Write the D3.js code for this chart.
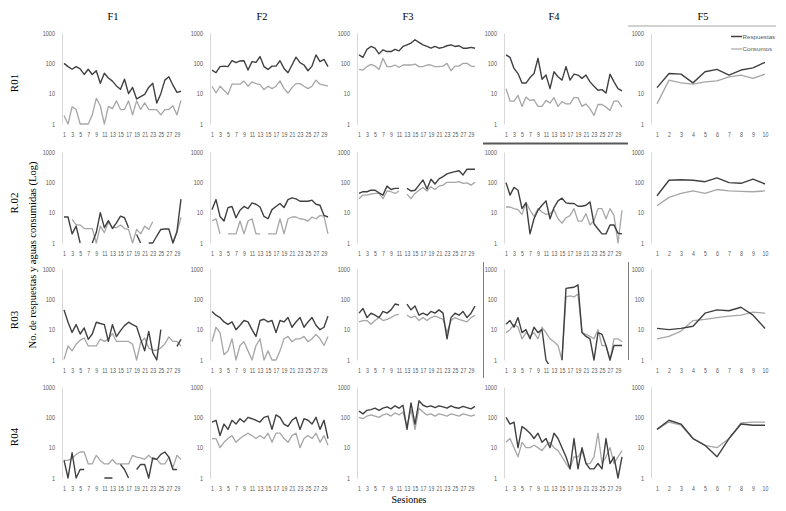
<!DOCTYPE html>
<html><head><meta charset="utf-8">
<script src="https://cdn.jsdelivr.net/npm/d3@7"></script>
<style>body{margin:0;background:#fff}svg{display:block}</style>
</head><body>
<svg id="c" width="786" height="511"></svg>
<script>
// ---------- DATA ----------
const rowLabels = ["R01", "R.02", "R03", "R04"];
const colLabels = ["F1", "F2", "F3", "F4", "F5"];
const sessions30 = d3.range(1, 31);
const sessions10 = d3.range(1, 11);
const ticks30 = [1,3,5,7,9,11,13,15,17,19,21,23,25,27,29];
const ticks10 = [1,2,3,4,5,6,7,8,9,10];
const yTicks = [1, 10, 100, 1000];
const seriesNames = ["Respuestas", "Consumos"];
const yTitle = "No. de respuestas y aguas consumidas (Log)";
const xTitle = "Sesiones";

const resp_R01_F1 = [100,78,64,78,66,43,64,43,57,22,47,33,26,18,14,30,10,16,6.7,8,9.5,16,22,4.9,10,28,36,19,11,12];
const cons_R01_F1 = [1.9,1,3.7,3,1,1,1,2,7,4,1,3.8,3.2,5.8,3,3,5.8,2,5.8,3,5,3,3,3,2,3,3,4,2,6];
const resp_R01_F2 = [60,49,78,81,78,122,105,120,122,60,114,108,167,78,63,81,81,122,68,49,88,160,105,88,57,81,190,114,135,78];
const cons_R01_F2 = [17.6,10.5,17.6,13,9.5,20.5,20.5,20.5,26,17.6,24.5,21.5,20,13.6,17.6,14.7,17.6,26.5,14.7,10.5,15.8,21.5,21.5,17.6,14.7,17.6,28,20.5,19,17.6];
const resp_R01_F3 = [190,158,290,360,315,205,278,245,245,290,258,360,408,465,600,490,408,360,315,360,315,335,380,408,360,380,315,315,335,315];
const cons_R01_F3 = [63,60,78,92,81,63,147,78,78,88,74,88,88,88,95,78,78,88,88,78,78,81,100,57,81,81,100,100,81,78];
const resp_R01_F4 = [190,158,68,46,22.4,22.4,34,46,147,30,41,14.7,53,36,28,78,28,44,41,32,41,24.5,17.6,13,13.6,10.5,44,24.5,14.7,12.3];
const cons_R01_F4 = [14.7,5.7,5.7,8.8,3.8,7.7,6,6.3,3.8,3.8,6,4.9,7.4,3.8,5.5,4.6,4.6,7.4,7.4,3.8,4.6,3.2,1.9,4.4,4.4,3.6,2.8,5.7,5.7,3.6];
const resp_R01_F5 = [15.8,46,44,22.7,53,63,41,60,71,108];
const cons_R01_F5 = [4.6,28,22.7,20.5,24.5,26.5,36,41,32,44];

const resp_R02_F1 = [7.2,7.2,2,3.6,1,null,null,1,2.2,10,3.2,5.5,3,4.6,7.7,6.8,3.2,null,1.9,1,null,1,1,1.7,2.8,2.9,2.9,1,2.4,28];
const cons_R02_F1 = [null,null,6,4,3.9,3,3,3,1,3.6,2.2,5,3.2,3.2,3.9,3,2.8,1,2.8,2,3.6,2.8,5,null,null,null,null,1,2.2,7];
const resp_R02_F2 = [12.6,27,7.5,5.3,14.7,16,6.8,12,16,13.6,21,19,15.4,7.5,6.3,12.6,16,20,14.7,27,30.7,28.5,23.8,23.8,23.8,25.8,19,17.6,8.1,7.2];
const cons_R02_F2 = [5.3,6.3,2,null,2,2,2,5.3,2,5.3,6.3,2,2,null,2,2,2,6.3,2,6.3,7.2,7.2,6.3,6,5.3,7.2,6.3,8.1,7.5,2];
const resp_R02_F3 = [43,49,49,55,55,45,38,75,58,63,63,null,63,52,55,81,120,60,127,88,130,155,190,210,226,240,175,270,270,270];
const cons_R02_F3 = [29,38,38,41,43,43,29,52,49,43,52,null,41,29,43,55,68,52,72,58,75,81,100,100,100,105,93,96,81,100];
const resp_R02_F4 = [98,38,68,55,13.6,21,2,6.3,12,17.6,24.5,6.3,14.7,24.5,30,21,20,20,16.3,16.3,17.6,22.7,4.3,2.9,2,2,3.9,3.9,2.1,2];
const cons_R02_F4 = [15.4,15.4,13.6,12.6,8.8,22,12,7.5,13.6,10.5,8.8,9.3,12.6,6.3,4.5,6.8,8,13.6,5.3,5.3,9.3,3.9,5.5,13.6,13.6,6.3,13.6,8,1,12];
const resp_R02_F5 = [36,117,122,117,105,140,98,93,127,88];
const cons_R02_F5 = [17,32,43,52,43,58,52,50,49,52];

const resp_R03_F1 = [45,17.6,8.1,14.7,7.2,11.4,4.8,7.2,17.6,16,14.7,4.1,14.7,5.9,9.3,13.6,17.6,14.7,12.6,4.8,2,8.8,1.75,1,10,null,null,null,2.8,4.8];
const cons_R03_F1 = [1.05,2.9,2,3.3,4.5,5.3,2.9,2.9,2.9,4.9,4.1,4.9,7.5,4.1,4.1,4.1,4.1,3.3,1,3.8,5.3,2.5,2.1,2.1,2.5,3.4,5.8,4.1,4.1,2.9];
const resp_R03_F2 = [40,30,25,18,15,18,10,14,20,18,10,6,20,22,18,20,8,20,18,25,12,18,25,12,18,25,14,10,12,28];
const cons_R03_F2 = [4,12,8,1.5,2,5,1,3,4,2,1,3,5,1,2,1,1,2,5,6,4,5,5,6,4,5,7,5,3,6];
const resp_R03_F3 = [35,50,25,35,30,25,40,35,45,70,65,null,70,45,60,30,35,30,40,35,45,35,5,25,35,30,40,25,35,60];
const cons_R03_F3 = [18,20,20,15,20,25,20,22,25,30,32,null,30,25,28,20,25,20,25,28,25,22,8,20,25,22,20,18,25,30];
const resp_R03_F4 = [15,20,12,25,8,10,5,12,8,10,1,0.6,null,null,1,230,240,250,300,8,6,5,1,8,7,3,1,3,3,3];
const cons_R03_F4 = [8,10,15,12,5,8,6,8,5,12,8,5,4,3,1,120,130,120,150,8,7,6,5,10,3,3,1,5,5,4];
const resp_R03_F5 = [11,10,11,13,35,45,42,55,30,11];
const cons_R03_F5 = [5,6,9,20,22,25,28,30,38,35];

const resp_R04_F1 = [3.8,1,6.8,1,1.9,1.9,null,null,null,null,1,1,1,null,2.8,1.9,1,null,1.9,2.8,2.8,1,4.6,4.1,6,7.2,4.9,1.9,1.9,null];
const cons_R04_F1 = [3.8,3.8,4.4,6,7.2,7.2,2.9,2.9,5.6,3.8,2.9,2.9,4.1,2.9,2.9,2.9,2.9,5.6,4.9,4.6,4.1,5.6,4.1,4.1,2.9,2.9,4.9,2.2,5.6,4.1];
const resp_R04_F2 = [70,80,25,60,40,80,60,90,70,100,90,80,70,100,110,40,120,100,60,50,80,100,40,90,80,60,100,40,80,20];
const cons_R04_F2 = [20,20,10,15,20,25,15,20,25,30,25,20,25,20,30,15,30,30,20,15,25,30,10,20,25,20,30,15,25,12];
const resp_R04_F3 = [160,130,170,180,200,170,200,220,190,240,200,250,40,300,60,350,250,220,240,210,240,220,200,240,210,200,230,210,190,230];
const cons_R04_F3 = [100,90,110,120,110,100,120,130,110,140,120,150,50,180,40,200,150,120,130,110,130,120,110,130,120,110,130,120,110,120];
const resp_R04_F4 = [100,60,70,10,50,40,30,20,30,15,20,10,30,20,10,5,2,20,2,10,3,2,2,3,2,20,3,5,1,5];
const cons_R04_F4 = [15,20,10,5,15,10,10,12,10,8,12,15,10,8,5,3,2,5,5,8,3,3,5,30,3,5,10,3,5,8];
const resp_R04_F5 = [40,80,60,20,12,5,20,60,55,55];
const cons_R04_F5 = [40,70,55,20,12,10,20,65,70,70];

const respData = [
  [resp_R01_F1, resp_R01_F2, resp_R01_F3, resp_R01_F4, resp_R01_F5],
  [resp_R02_F1, resp_R02_F2, resp_R02_F3, resp_R02_F4, resp_R02_F5],
  [resp_R03_F1, resp_R03_F2, resp_R03_F3, resp_R03_F4, resp_R03_F5],
  [resp_R04_F1, resp_R04_F2, resp_R04_F3, resp_R04_F4, resp_R04_F5]
];
const consData = [
  [cons_R01_F1, cons_R01_F2, cons_R01_F3, cons_R01_F4, cons_R01_F5],
  [cons_R02_F1, cons_R02_F2, cons_R02_F3, cons_R02_F4, cons_R02_F5],
  [cons_R03_F1, cons_R03_F2, cons_R03_F3, cons_R03_F4, cons_R03_F5],
  [cons_R04_F1, cons_R04_F2, cons_R04_F3, cons_R04_F4, cons_R04_F5]
];

// ---------- LAYOUT ----------
const colLeft = [62, 210, 357, 504, 651];
const colWidth = [121, 120, 120, 120, 120];
const rowTop = [33, 152, 269, 387];
const plotH = 91;
const colHeadX = [113, 262, 408, 554, 703];
const rowLabelY = [83, 203, 320, 437];
const colors = {resp: "#404040", cons: "#a6a6a6"};
const serif = "'Liberation Serif','Times New Roman',serif";
const tickFont = "'Liberation Sans Narrow','Liberation Sans',sans-serif";

const svg = d3.select("#c");

// decorative selection lines (from the original screenshot)
svg.append("line").attr("x1",628).attr("x2",776).attr("y1",26).attr("y2",26).attr("stroke","#a6a6a6").attr("stroke-width",1);
svg.append("line").attr("x1",483).attr("x2",628).attr("y1",143.5).attr("y2",143.5).attr("stroke","#595959").attr("stroke-width",2);
svg.append("line").attr("x1",483.5).attr("x2",483.5).attr("y1",262).attr("y2",378).attr("stroke","#7f7f7f").attr("stroke-width",1);
svg.append("line").attr("x1",628.5).attr("x2",628.5).attr("y1",262).attr("y2",360).attr("stroke","#7f7f7f").attr("stroke-width",1);

colLabels.forEach((c, j) => {
  svg.append("text").attr("x", colHeadX[j]).attr("y", 20).attr("text-anchor","middle")
    .attr("font-family", serif).attr("font-size", 10.5).attr("font-weight", "normal").attr("fill","#000").text(c);
});
rowLabels.forEach((r, i) => {
  svg.append("text").attr("transform", `translate(18,${rowLabelY[i]}) rotate(-90)`)
    .attr("text-anchor","middle").attr("font-family", serif).attr("font-size", 11).attr("fill","#000").text(r);
});
svg.append("text").attr("transform", "translate(36,255) rotate(-90)").attr("text-anchor","middle")
  .attr("font-family", serif).attr("font-size", 10.5).attr("fill","#000").text(yTitle);
svg.append("text").attr("x", 409).attr("y", 503).attr("text-anchor","middle")
  .attr("font-family", serif).attr("font-size", 10).attr("fill","#000").text(xTitle);

rowLabels.forEach((r, i) => {
  colLabels.forEach((c, j) => {
    const isF5 = j === 4;
    const dom = isF5 ? sessions10 : sessions30;
    const x = d3.scalePoint().domain(dom).range([colLeft[j], colLeft[j] + colWidth[j]]).padding(0.5);
    const y = d3.scaleLog().domain([1, 1000]).range([rowTop[i] + plotH, rowTop[i]]);
    const g = svg.append("g");

    // y axis
    const ya = d3.axisLeft(y).tickValues(yTicks).tickSize(0).tickPadding(0).tickFormat(d3.format("d"));
    const yg = g.append("g").attr("transform", `translate(${colLeft[j]},0)`).call(ya);
    yg.select(".domain").attr("stroke", "#d9d9d9");
    yg.selectAll("text").attr("x", 0).attr("transform", "translate(-7,0) scale(0.85,1)")
      .attr("font-family", tickFont).attr("font-size", 6.5).attr("fill", "#595959");

    // x axis labels
    const xa = d3.axisBottom(x).tickValues(isF5 ? ticks10 : ticks30).tickSize(0).tickPadding(8);
    const xg = g.append("g").attr("transform", `translate(0,${rowTop[i] + plotH})`).call(xa);
    xg.select(".domain").remove();
    xg.selectAll("text").attr("transform", "scale(0.8,1)")
      .attr("font-family", tickFont).attr("font-size", 6.5).attr("fill", "#595959");

    const line = d3.line()
      .defined(d => d.v != null)
      .x(d => x(d.s))
      .y(d => y(d.v));
    const clipId = `clip${i}${j}`;
    g.append("clipPath").attr("id", clipId).append("rect")
      .attr("x", colLeft[j]).attr("y", rowTop[i] - 2).attr("width", colWidth[j] + 4).attr("height", plotH + 6);

    const consPts = dom.map((s, k) => ({s, v: consData[i][j][k]}));
    const respPts = dom.map((s, k) => ({s, v: respData[i][j][k]}));
    g.append("path").datum(consPts).attr("d", line).attr("fill","none")
      .attr("stroke", colors.cons).attr("stroke-width", 1.3).attr("stroke-linejoin","round").attr("clip-path", `url(#${clipId})`);
    g.append("path").datum(respPts).attr("d", line).attr("fill","none")
      .attr("stroke", colors.resp).attr("stroke-width", 1.4).attr("stroke-linejoin","round").attr("clip-path", `url(#${clipId})`);
  });
});

// legend in R01 F5
const lg = svg.append("g");
seriesNames.forEach((n, k) => {
  const yy = 36.5 + k * 12.5;
  lg.append("line").attr("x1", 731).attr("x2", 742).attr("y1", yy).attr("y2", yy)
    .attr("stroke", k === 0 ? colors.resp : colors.cons).attr("stroke-width", k === 0 ? 1.5 : 1.2);
  lg.append("text").attr("x", 742.5).attr("y", yy + 2.2).attr("font-family", tickFont)
    .attr("font-size", 6.2).attr("fill", "#595959").text(n);
});
</script>
</body></html>
